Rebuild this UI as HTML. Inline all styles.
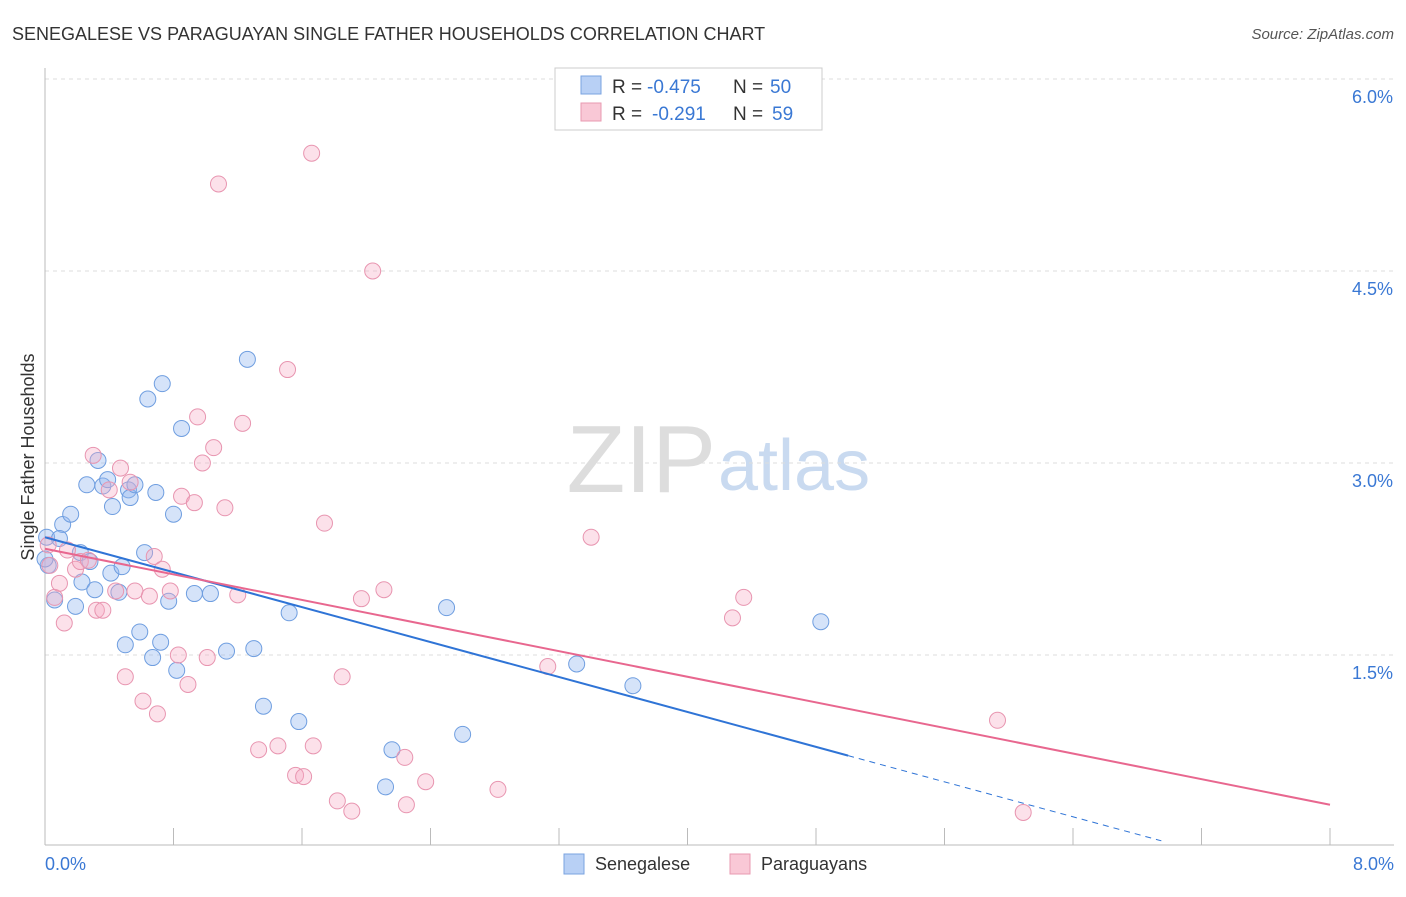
<!DOCTYPE html>
<html><head><meta charset="utf-8"><style>
body{margin:0;background:#fff;font-family:"Liberation Sans",sans-serif}
svg text{font-family:"Liberation Sans",sans-serif}
</style></head><body>
<svg id="c" width="1406" height="892">
<text x="12" y="40" font-size="18" fill="#333">SENEGALESE VS PARAGUAYAN SINGLE FATHER HOUSEHOLDS CORRELATION CHART</text>
<text x="1394" y="39" font-size="15" fill="#555" font-style="italic" text-anchor="end">Source: ZipAtlas.com</text>
<text x="34" y="457" font-size="18" fill="#333" transform="rotate(-90 34 457)" text-anchor="middle">Single Father Households</text>
<text x="716" y="492" font-size="96" fill="#ddd" text-anchor="end" font-family="Liberation Serif">ZIP</text>
<text x="718" y="490" font-size="72" fill="#c9daf0">atlas</text>
<g id="grid"></g><g id="pts"></g><g id="lines"></g>
<g>
<rect x="555" y="68" width="267" height="62" fill="#fff" stroke="#ccc"/>
<rect x="581" y="76" width="20" height="18" fill="#b8d0f5" stroke="#7aa3e0"/>
<rect x="581" y="103" width="20" height="18" fill="#f9c8d6" stroke="#e89ab0"/>
<text x="612" y="93" font-size="19" fill="#333">R =</text><text x="647" y="93" font-size="19" fill="#3a78d4">-0.475</text><text x="733" y="93" font-size="19" fill="#333">N =</text><text x="770" y="93" font-size="19" fill="#3a78d4">50</text>
<text x="612" y="120" font-size="19" fill="#333">R =</text><text x="652" y="120" font-size="19" fill="#3a78d4">-0.291</text><text x="733" y="120" font-size="19" fill="#333">N =</text><text x="772" y="120" font-size="19" fill="#3a78d4">59</text>
</g>
<g>
<rect x="564" y="854" width="20" height="20" fill="#b8d0f5" stroke="#7aa3e0"/>
<text x="595" y="870" font-size="18" fill="#333">Senegalese</text>
<rect x="730" y="854" width="20" height="20" fill="#f9c8d6" stroke="#e89ab0"/>
<text x="761" y="870" font-size="18" fill="#333">Paraguayans</text>
</g>
</svg>
<script>
const yTicks=[1.5,3.0,4.5,6.0];
const yTickLabels=["1.5%","3.0%","4.5%","6.0%"];
const xTickLabels=["0.0%","8.0%"];
const senX=[0.01,0.06,0.02,0.11,0.09,0.16,0.19,0.22,0.23,0.26,0.28,0.31,0.33,0.36,0.39,0.41,0.42,0.46,0.48,0.52,0.53,0.56,0.5,0.59,0.62,0.64,0.67,0.69,0.72,0.73,0.77,0.8,0.82,0.85,0.93,1.03,1.13,1.26,1.3,1.36,1.52,1.58,2.12,2.16,2.5,2.6,3.31,3.66,4.83,0.0];
const senY=[2.42,1.93,2.2,2.52,2.41,2.6,1.88,2.3,2.07,2.83,2.23,2.01,3.02,2.82,2.87,2.14,2.66,1.99,2.19,2.79,2.73,2.83,1.58,1.68,2.3,3.5,1.48,2.77,1.6,3.62,1.92,2.6,1.38,3.27,1.98,1.98,1.53,3.81,1.55,1.1,1.83,0.98,0.47,0.76,1.87,0.88,1.43,1.26,1.76,2.25];
const parX=[0.02,0.03,0.06,0.09,0.12,0.14,0.19,0.22,0.27,0.3,0.32,0.36,0.4,0.44,0.47,0.5,0.53,0.56,0.61,0.65,0.68,0.7,0.73,0.78,0.83,0.85,0.89,0.93,0.95,0.98,1.01,1.05,1.08,1.12,1.2,1.23,1.33,1.45,1.51,1.56,1.61,1.66,1.67,1.74,1.82,1.85,1.91,1.97,2.04,2.11,2.24,2.25,2.37,2.82,3.13,3.4,4.28,4.35,5.93,6.09];
const parY=[2.36,2.2,1.95,2.06,1.75,2.32,2.17,2.23,2.24,3.06,1.85,1.85,2.79,2.0,2.96,1.33,2.85,2.0,1.14,1.96,2.27,1.04,2.17,2.0,1.5,2.74,1.27,2.69,3.36,3.0,1.48,3.12,5.18,2.65,1.97,3.31,0.76,0.79,3.73,0.56,0.55,5.42,0.79,2.53,0.36,1.33,0.28,1.94,4.5,2.01,0.7,0.33,0.51,0.45,1.41,2.42,1.79,1.95,0.99,0.27];
const senTrend=[2.42,-0.31], parTrend=[2.33,0.33], senSolidEnd=5.0, senDashEnd=6.95;
const NS="http://www.w3.org/2000/svg";
const X=v=>45+v/8*1285, Y=v=>847-v*128;
function mk(t,a,p){const e=document.createElementNS(NS,t);for(const k in a)e.setAttribute(k,a[k]);p.appendChild(e);return e;}
const grid=document.getElementById('grid');
yTicks.forEach((t,i)=>{
 const l=mk('line',{x1:45,x2:1394,y1:Y(t),y2:Y(t),stroke:'#ddd','stroke-dasharray':'4,4'},grid);
 
 
 const tx=mk('text',{x:1393,y:Y(t)+24,'font-size':18,fill:'#3a78d4','text-anchor':'end'},grid);tx.textContent=yTickLabels[i];
 
 
});
const ax=mk('line',{x1:45,x2:1394,y1:845,y2:845,stroke:'#bbb'},grid);


const ay=mk('line',{x1:45,x2:45,y1:68,y2:845,stroke:'#bbb'},grid);


for(let i=1;i<=10;i++){const tk=mk('line',{x1:45+i*128.5,x2:45+i*128.5,y1:828,y2:845,stroke:'#bbb'},grid);
 
 }
[[0,'start',45],[1,'end',1394]].forEach(([i,a,x])=>{const t=mk('text',{x:x,y:870,'font-size':18,fill:'#3a78d4','text-anchor':a},grid);t.textContent=xTickLabels[i];
 
 });
const pts=document.getElementById('pts');
senX.forEach((x,i)=>{const c=mk('circle',{cx:X(x),cy:Y(senY[i]),r:8,fill:'rgba(150,185,240,0.4)',stroke:'#6f9ee0','stroke-width':1},pts);
 
 });
parX.forEach((x,i)=>{const c=mk('circle',{cx:X(x),cy:Y(parY[i]),r:8,fill:'rgba(245,170,195,0.35)',stroke:'#e895b0','stroke-width':1},pts);
 
 });
const lines=document.getElementById('lines');
const sy=x=>senTrend[0]+(senTrend[1]-senTrend[0])*x/8;
const l1=mk('line',{x1:X(0),y1:Y(sy(0)),x2:X(senSolidEnd),y2:Y(sy(senSolidEnd)),stroke:'#2f74d6','stroke-width':2},lines);


const l2=mk('line',{x1:X(senSolidEnd),y1:Y(sy(senSolidEnd)),x2:X(senDashEnd),y2:Y(sy(senDashEnd)),stroke:'#2f74d6','stroke-width':1,'stroke-dasharray':'6,5'},lines);


const l3=mk('line',{x1:X(0),y1:Y(parTrend[0]),x2:X(8),y2:Y(parTrend[1]),stroke:'#e8678f','stroke-width':2},lines);


</script>
</body></html>
